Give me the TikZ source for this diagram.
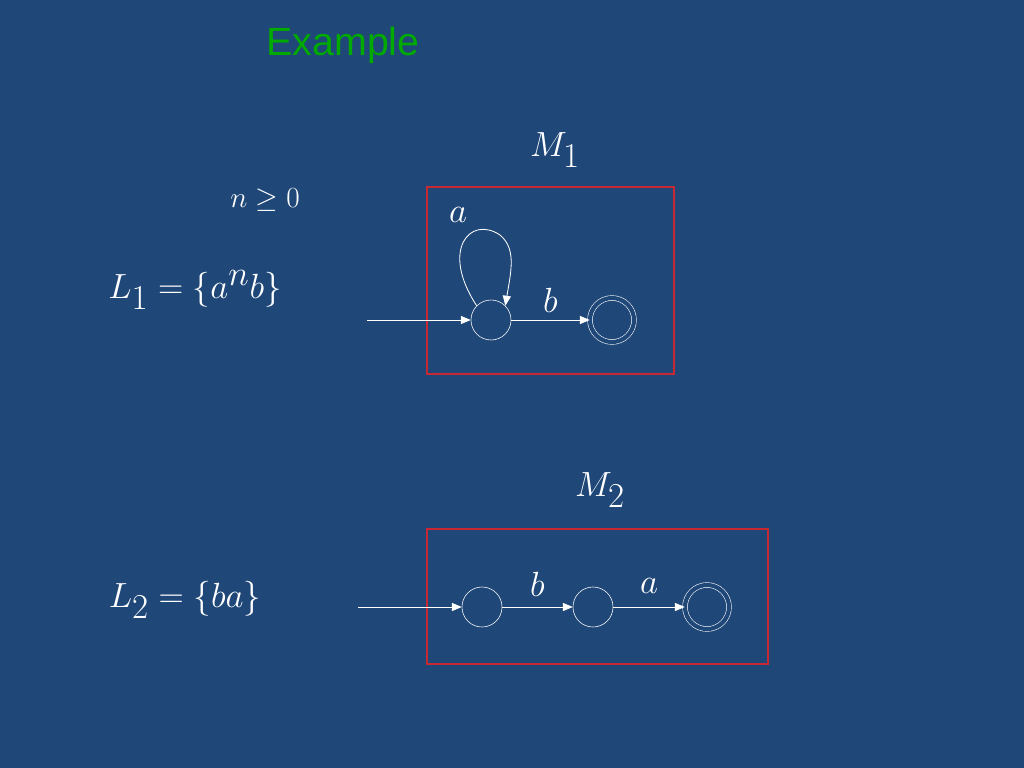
\documentclass[tikz,border=0pt]{standalone}
\usepackage{fontspec}
\setsansfont{Liberation Sans}
\usetikzlibrary{arrows}
\definecolor{slidebg}{RGB}{31,71,120}
\definecolor{boxred}{RGB}{200,40,50}
\definecolor{titlegreen}{RGB}{0,170,0}
\tikzstyle{state} = [circle, draw=white, minimum size=1cm, inner sep=0pt]
\tikzstyle{accept} = [state, double=slidebg, double distance=3pt, minimum size=1.1cm]
\tikzstyle{arrow} = [white, ->, >=triangle 45, line width=0.6pt]
\tikzstyle{frame} = [draw=boxred, line width=0.8pt]
\tikzstyle{big} = [text=white, font=\fontsize{38}{42}\selectfont]
\tikzstyle{lang} = [text=white, font=\fontsize{46}{50}\selectfont]
\tikzstyle{lbl} = [text=white, font=\fontsize{32}{36}\selectfont]
\begin{document}
\begin{tikzpicture}[x=0.025cm, y=-0.025cm]
\fill[slidebg] (0,0) rectangle (1024,768);
%
% Define nodes
%
\node (title) [text=titlegreen, font=\sffamily\fontsize{28}{32}\selectfont] at (343,45) {Example};
\node (m1) [big] at (555,150) {$M_1$};
\node (ncond) [text=white, font=\fontsize{22}{26}\selectfont] at (265,200) {$n\geq 0$};
\node (l1) [lang] at (195,290) {$L_1=\{a^nb\}$};
\draw [frame] (427,187) rectangle (674,374);
\node (q0) [state] at (491,320) {};
\node (q1) [accept] at (612,320) {};
\coordinate (in1) at (367,320);
\node (alab) [lbl] at (458,215) {$a$};
\node (m2) [big] at (600,490) {$M_2$};
\node (l2) [lang] at (185,600) {$L_2=\{ba\}$};
\draw [frame] (427,529) rectangle (768,664);
\node (p0) [state] at (482,607) {};
\node (p1) [state] at (593,607) {};
\node (p2) [accept] at (707,607) {};
\coordinate (in2) at (358,607);
%
% Connect nodes
%
\draw [arrow] (in1) -- (q0);
\draw [arrow] (q0.north west) .. controls (440,250) and (470,215) .. (500,235) .. controls (518,250) and (510,275) .. (q0.north east);
\draw [arrow] (q0) -- node[lbl, above, yshift=2pt] {$b$} (q1);
\draw [arrow] (in2) -- (p0);
\draw [arrow] (p0) -- node[lbl, above, yshift=4pt] {$b$} (p1);
\draw [arrow] (p1) -- node[lbl, above, yshift=6pt] {$a$} (p2);
\end{tikzpicture}
\end{document}
